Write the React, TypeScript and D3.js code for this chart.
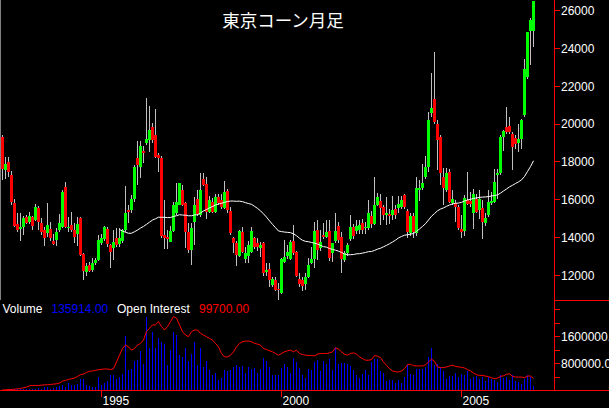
import * as d3 from 'd3'
import { FC } from 'react'

const W = 609
const H = 408
const AXIS_X = 554
const PRICE_TOP = 10.7
const PRICE_BOTTOM = 275.3
const VOL_BASE = 390.5
const VOL_1600 = 336.7

const START = new Date(1992, 3, 1)
const END = new Date(2007, 1, 1)

const opens = [
  19330, 17580, 17990, 17310, 15850, 14720, 14470, 14570, 15070, 14840,
  15070, 14900, 15550, 14790, 14400, 14220, 14440, 13800, 13850, 14400,
  14540, 16690, 14490, 14660, 14400, 14190, 15010, 13130, 12190, 12540,
  12290, 12650, 12810, 13730, 13910, 14440, 13580, 13450, 13960, 13640,
  13800, 14400, 15460, 15460, 16020, 18190, 17750, 18590, 18990, 19170,
  19870, 19420, 18370, 18190, 14150, 14050, 13780, 14330, 15290, 15720,
  16520, 15820, 14270, 13320, 14840, 16030, 15200, 17080, 16830, 15370,
  15900, 15370, 16130, 15980, 15550, 16460, 15420, 13960, 13700, 13000,
  14270, 12850, 13000, 13250, 13960, 13700, 13430, 13700, 12190, 12320,
  11490, 11750, 11300, 11040, 12720, 13030, 12850, 13800, 13250, 11790,
  11750, 11540, 11900, 12670, 12870, 14400, 13430, 14130, 14040, 14330,
  13200, 13800, 14620, 14040, 12820, 13170, 13920, 14580, 14350, 14400,
  14750, 14480, 14490, 15140, 14700, 15730, 15950, 15640, 15200, 15250,
  15190, 15500, 15550, 15630, 16240, 15400, 14230, 15140, 14230, 16500,
  16630, 17220, 17750, 20600, 21320, 20000, 19300, 17220, 16500, 17450,
  15810, 15810, 15630, 14440, 14360, 16000, 15950, 15310, 16030, 15430,
  15550, 14750, 15190, 15850, 15900, 17310, 17400, 19300, 19870, 19900,
  19500, 19250, 19020, 19200, 20480, 22480, 24900, 24900,
]
const highs = [
  19400, 18270, 18270, 17520, 16030, 15300, 15300, 15140, 15190, 15370,
  15140, 15770, 15660, 15030, 14580, 15800, 14840, 14180, 14500, 15250,
  16520, 16950, 15100, 15370, 14750, 15100, 15070, 13170, 12670, 12710,
  12900, 12900, 14130, 14180, 14610, 14580, 13640, 14400, 14490, 14490,
  14460, 16700, 15720, 16240, 17840, 19100, 19100, 18820, 21370, 20950,
  20040, 20780, 18460, 18300, 16000, 14400, 14610, 15900, 16870, 16900,
  16800, 15900, 14750, 14750, 16160, 16500, 17400, 17400, 17190, 16200,
  16100, 16300, 16300, 16300, 17000, 16560, 15600, 14040, 13790, 14400,
  14580, 13520, 13800, 14580, 14040, 13960, 13780, 13780, 12660, 12640,
  11900, 11900, 11600, 12900, 13850, 13580, 13850, 14660, 13300, 12100,
  11900, 12100, 12900, 13520, 14840, 14900, 14400, 14790, 14930, 14900,
  13700, 15280, 14800, 14300, 13300, 13700, 15200, 14700, 14900, 14900,
  15000, 14800, 15980, 15400, 17220, 16350, 16300, 15700, 16160, 15500,
  16200, 15700, 16200, 16200, 16300, 15500, 15300, 15300, 17220, 17050,
  17870, 18320, 20620, 22690, 23830, 20200, 19400, 17660, 17660, 17600,
  16520, 15990, 15700, 15190, 16240, 17450, 16400, 16550, 16300, 16520,
  15990, 15300, 16520, 16400, 17610, 17610, 19400, 19700, 20920, 20390,
  19600, 19400, 20010, 20250, 23430, 24890, 25600, 26500,
]
const lows = [
  17050, 17100, 17200, 15720, 14580, 14300, 13800, 14130, 14700, 14720,
  14400, 14880, 14400, 14130, 13530, 14040, 13800, 13580, 13530, 14310,
  14500, 14500, 14310, 14300, 13730, 13550, 13000, 11750, 11970, 12200,
  12200, 12550, 12740, 13600, 13800, 13500, 12380, 12800, 13500, 13500,
  13700, 14310, 14790, 15300, 15900, 16760, 17150, 17940, 18900, 18540,
  19000, 18200, 17450, 14000, 13400, 13380, 13750, 14300, 15200, 15700,
  15650, 13430, 13200, 12570, 13600, 15150, 15100, 16700, 15000, 15300,
  15300, 15300, 15700, 15500, 15500, 15300, 14130, 13170, 12490, 12950,
  13200, 12640, 12640, 13200, 13400, 13300, 12960, 11940, 11940, 11400,
  11400, 11150, 10700, 11000, 12650, 12850, 12800, 13100, 11900, 11380,
  11170, 11230, 11850, 12600, 12380, 12800, 13300, 13900, 13950, 12750,
  12700, 13700, 13700, 12130, 12700, 13000, 13800, 13900, 14200, 14200,
  14200, 14200, 14400, 14500, 14650, 15650, 14660, 14930, 14660, 14700,
  14930, 15000, 15300, 15500, 15500, 14000, 14100, 14000, 14100, 15930,
  16500, 17100, 17490, 20400, 20000, 17550, 16780, 15720, 16400, 15800,
  15700, 14840, 14400, 13960, 14060, 15700, 15600, 14440, 15300, 15000,
  13900, 14600, 15100, 15700, 15800, 16050, 17300, 18600, 19500, 19500,
  17570, 18700, 18520, 18700, 20400, 22400, 23120, 24070,
]
const closes = [
  17600, 17890, 17460, 15900, 14600, 14400, 14540, 15010, 14790, 15140,
  14610, 15600, 14840, 14310, 13960, 14660, 13960, 13640, 14310, 14750,
  16420, 14570, 14570, 14400, 14040, 14720, 13100, 12250, 12490, 12250,
  12670, 12820, 13860, 13960, 14540, 13660, 13250, 13750, 13600, 13960,
  14400, 15300, 15370, 16020, 17720, 17840, 18840, 18490, 19210, 19690,
  19160, 18270, 18190, 14080, 14000, 13900, 14330, 15730, 15900, 16870,
  15730, 14270, 13320, 14500, 15730, 15250, 16520, 16780, 15370, 15990,
  15370, 16130, 15810, 15630, 16430, 15460, 14250, 13700, 13080, 14330,
  13250, 13170, 13580, 14330, 13520, 13480, 13610, 12100, 12290, 11750,
  11790, 11230, 11200, 12850, 12990, 13250, 13750, 13170, 11970, 11540,
  11440, 11930, 12550, 12870, 14360, 13340, 13780, 14010, 14310, 12900,
  13730, 14360, 13850, 12870, 13180, 13610, 14580, 14080, 14600, 14660,
  14400, 14530, 15280, 14720, 15730, 16160, 15550, 15200, 15320, 15160,
  15460, 15200, 15780, 15990, 15630, 14310, 15120, 14270, 16610, 16600,
  16870, 17750, 20220, 20840, 20130, 19160, 17400, 16600, 17400, 15900,
  16030, 15600, 14480, 14270, 16070, 15770, 15780, 16300, 15370, 16030,
  14840, 15010, 15900, 15950, 16950, 17400, 19310, 19650, 19600, 19600,
  18800, 18950, 19200, 20220, 22900, 24890, 25500, 26500,
]
const volumes = [
  20000, 20000, 20000, 30000, 30000, 30000, 30000, 30000, 30000, 40000,
  40000, 50000, 70000, 40000, 90000, 100000, 50000, 70000, 90000, 130000,
  170000, 100000, 230000, 150000, 170000, 200000, 350000, 350000, 150000, 130000,
  100000, 90000, 400000, 170000, 230000, 270000, 450000, 470000, 350000, 400000,
  500000, 1630000, 600000, 630000, 870000, 900000, 1170000, 800000, 2200000, 1250000,
  1750000, 1270000, 1550000, 1430000, 1370000, 750000, 1200000, 1750000, 1650000, 1070000,
  1000000, 1250000, 870000, 1100000, 1450000, 770000, 1270000, 700000, 870000, 600000,
  470000, 530000, 300000, 370000, 600000, 570000, 600000, 700000, 750000, 700000,
  730000, 530000, 700000, 630000, 670000, 530000, 630000, 970000, 870000, 700000,
  470000, 470000, 470000, 670000, 800000, 700000, 530000, 970000, 850000, 670000,
  470000, 370000, 630000, 600000, 850000, 900000, 570000, 870000, 800000, 930000,
  600000, 1300000, 800000, 830000, 830000, 800000, 730000, 600000, 450000, 370000,
  500000, 600000, 470000, 850000, 950000, 930000, 570000, 530000, 270000, 300000,
  300000, 230000, 300000, 230000, 400000, 750000, 500000, 470000, 650000, 630000,
  650000, 700000, 1000000, 1250000, 750000, 800000, 700000, 570000, 350000, 430000,
  430000, 530000, 400000, 500000, 450000, 570000, 350000, 400000, 420000, 330000,
  400000, 270000, 400000, 330000, 300000, 250000, 450000, 370000, 400000, 300000,
  450000, 270000, 250000, 200000, 350000, 450000, 400000, 136000,
]
const openInterest = [
  20000, 20000, 30000, 30000, 40000, 50000, 60000, 80000, 100000, 140000,
  150000, 150000, 150000, 160000, 170000, 170000, 180000, 190000, 200000, 220000,
  280000, 300000, 330000, 350000, 370000, 420000, 470000, 490000, 540000, 570000,
  580000, 600000, 620000, 630000, 640000, 640000, 620000, 650000, 850000, 1050000,
  1250000, 1350000, 1300000, 1200000, 1250000, 1350000, 1400000, 1500000, 1750000, 1850000,
  1950000, 1950000, 2050000, 1900000, 1800000, 1900000, 2050000, 2200000, 2150000, 1950000,
  1750000, 1650000, 1600000, 1750000, 1800000, 1800000, 1700000, 1650000, 1600000, 1550000,
  1500000, 1400000, 1300000, 1100000, 1000000, 1000000, 1050000, 1150000, 1300000, 1400000,
  1450000, 1470000, 1470000, 1450000, 1400000, 1380000, 1350000, 1250000, 1220000, 1180000,
  1150000, 1100000, 1050000, 1100000, 1150000, 1180000, 1200000, 1150000, 1200000, 1100000,
  1070000, 1050000, 1040000, 1040000, 1030000, 1080000, 1100000, 1100000, 1100000, 1120000,
  1150000, 1270000, 1230000, 1150000, 1080000, 1050000, 1100000, 1120000, 1080000, 1000000,
  950000, 900000, 900000, 920000, 1040000, 1020000, 980000, 850000, 750000, 650000,
  580000, 560000, 550000, 580000, 650000, 770000, 780000, 740000, 730000, 730000,
  730000, 760000, 850000, 930000, 870000, 700000, 680000, 680000, 700000, 730000,
  750000, 720000, 700000, 690000, 670000, 620000, 580000, 520000, 470000, 450000,
  450000, 430000, 410000, 380000, 350000, 370000, 420000, 440000, 480000, 500000,
  420000, 400000, 400000, 400000, 380000, 430000, 430000, 360000,
]

const PRICE_TICKS = [12000, 14000, 16000, 18000, 20000, 22000, 24000, 26000]
const VOL_TICKS = [400000, 800000, 1200000, 1600000, 2000000, 2400000]
const VOL_LABELS = [800000, 1600000]
const YEAR_TICKS = [1995, 2000, 2005]
const MA_PERIOD = 40

const FONT = '"Liberation Sans", Arial, sans-serif'
const UP = '#00ff00'
const DOWN = '#ff0000'
const WICK = '#c0c0c0'
const AXIS = '#ff0000'

const App: FC = () => {
  const months = d3.timeMonth.range(START, END)
  const idx = months.map((_, i) => i)

  const x = d3.scaleBand<number>().domain(idx).range([1, 1 + months.length * 3])
  const cx = (i: number) => (x(i) as number) + x.bandwidth() / 2
  const y = d3.scaleLinear().domain([12000, 26000]).range([PRICE_BOTTOM, PRICE_TOP])
  const yv = d3.scaleLinear().domain([0, 1600000]).range([VOL_BASE, VOL_1600])

  // moving average of closes
  const ma = idx
    .filter((i) => i >= MA_PERIOD - 1)
    .map((i) => [i, d3.mean(closes.slice(i - MA_PERIOD + 1, i + 1)) as number] as [number, number])
  const maLine = d3.line<[number, number]>().x((d) => cx(d[0])).y((d) => y(d[1]))
  const oiLine = d3.line<number>().x((_, i) => cx(i)).y((d) => yv(d))

  const yearIndex = (yr: number) => months.findIndex((m) => m.getFullYear() === yr && m.getMonth() === 0)

  return (
    <svg width={W} height={H} style={{ position: 'absolute', left: 0, top: 0, background: '#000' }}
      fontFamily={FONT}>
      <rect width={W} height={H} fill='#000' />
      <line x1={0.5} x2={0.5} y1={0} y2={300} stroke='#808080' />

      <text x={283} y={27} fill='#fff' fontSize={17.5} textAnchor='middle'
        fontFamily='"Noto Sans CJK JP", sans-serif'>東京コーン月足</text>

      {/* candles */}
      <g shapeRendering='crispEdges'>
        {idx.map((i) => (
          <line key={'w' + i} x1={cx(i)} x2={cx(i)} y1={y(highs[i])} y2={y(lows[i])} stroke={WICK} strokeWidth={1} />
        ))}
        {idx.map((i) => {
          const up = closes[i] >= opens[i]
          const top = y(Math.max(opens[i], closes[i]))
          const bot = y(Math.min(opens[i], closes[i]))
          return (
            <rect key={'b' + i} x={x(i) as number} y={top} width={x.bandwidth() - 0.5}
              height={Math.max(1, bot - top)} fill={up ? UP : DOWN} />
          )
        })}
      </g>
      <path d={maLine(ma) as string} fill='none' stroke='#fff' strokeWidth={1} />

      {/* volume panel */}
      <g shapeRendering='crispEdges'>
        {idx.map((i) => (
          <line key={'v' + i} x1={cx(i)} x2={cx(i)} y1={VOL_BASE} y2={yv(volumes[i])} stroke='#0000ff' />
        ))}
      </g>
      <path d={oiLine(openInterest) as string} fill='none' stroke='#ff0000' strokeWidth={1} />

      <g fontSize={12}>
        <text x={2.5} y={312.5} fill='#fff'>Volume</text>
        <text x={51.5} y={312.5} fill='#0000ff'>135914.00</text>
        <text x={117} y={312.5} fill='#fff'>Open Interest</text>
        <text x={199} y={312.5} fill='#ff0000'>99700.00</text>
      </g>

      {/* axes */}
      <g shapeRendering='crispEdges' stroke={AXIS}>
        <line x1={AXIS_X + 0.5} x2={AXIS_X + 0.5} y1={0} y2={VOL_BASE} />
        <line x1={0} x2={W} y1={VOL_BASE} y2={VOL_BASE} />
        <line x1={AXIS_X} x2={W} y1={300.5} y2={300.5} />
        {PRICE_TICKS.map((t) => (
          <line key={t} x1={AXIS_X} x2={AXIS_X + 6} y1={y(t)} y2={y(t)} />
        ))}
        {VOL_TICKS.map((t) => (
          <line key={t} x1={AXIS_X} x2={AXIS_X + 6} y1={yv(t)} y2={yv(t)} />
        ))}
        {YEAR_TICKS.map((yr) => (
          <line key={yr} x1={cx(yearIndex(yr))} x2={cx(yearIndex(yr))} y1={VOL_BASE} y2={VOL_BASE + 6} />
        ))}
      </g>
      <g fontSize={12} fill='#fff'>
        {PRICE_TICKS.map((t) => (
          <text key={t} x={AXIS_X + 7} y={y(t)} dy='0.35em'>{t}</text>
        ))}
        {VOL_LABELS.map((t) => (
          <text key={t} x={AXIS_X + 7} y={yv(t)} dy='0.35em'>{t.toFixed(2)}</text>
        ))}
        {YEAR_TICKS.map((yr) => (
          <text key={yr} x={cx(yearIndex(yr)) + 1} y={405}>{yr}</text>
        ))}
      </g>
    </svg>
  )
}

export default App
